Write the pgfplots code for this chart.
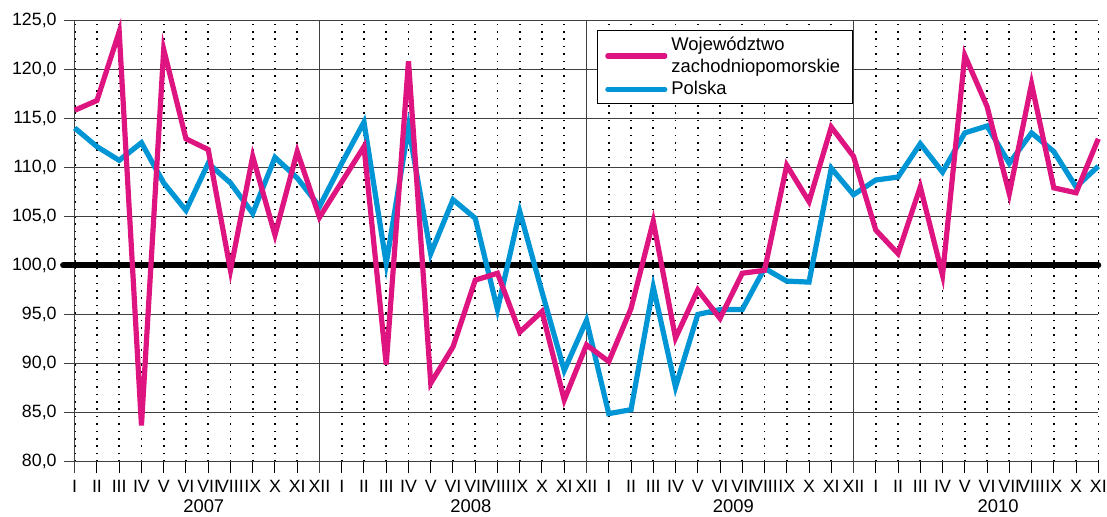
\documentclass[border=0pt]{standalone}
\usepackage{pgfplots}
\pgfplotsset{compat=1.18}
\usepackage{fontspec}
\setmainfont{Liberation Sans}
\definecolor{woj}{RGB}{222,20,128}
\definecolor{pol}{RGB}{0,150,214}

% monthly index: 0 = I 2007 ... 46 = XI 2010
\pgfplotstableread{
i val
0 115.8
1 116.8
2 123.8
3 83.7
4 122.0
5 112.9
6 111.8
7 99.5
8 111.1
9 103.1
10 111.6
11 104.9
12 108.5
13 112.1
14 89.9
15 120.8
16 88.0
17 91.7
18 98.5
19 99.2
20 93.2
21 95.3
22 86.3
23 91.9
24 90.2
25 95.6
26 104.5
27 92.6
28 97.5
29 94.6
30 99.2
31 99.5
32 110.2
33 106.5
34 114.1
35 111.1
36 103.6
37 101.2
38 108.0
39 99.0
40 121.4
41 116.2
42 107.3
43 118.5
44 107.9
45 107.4
46 112.9
}\wojtab

\pgfplotstableread{
i val
0 114.0
1 112.1
2 110.7
3 112.5
4 108.4
5 105.6
6 110.4
7 108.4
8 105.3
9 111.0
10 108.9
11 106.0
12 110.4
13 114.6
14 100.2
15 114.1
16 101.2
17 106.7
18 104.8
19 95.5
20 105.5
21 97.3
22 89.3
23 94.4
24 84.9
25 85.3
26 97.8
27 87.6
28 95.0
29 95.5
30 95.5
31 99.7
32 98.4
33 98.3
34 109.9
35 107.2
36 108.7
37 109.0
38 112.4
39 109.5
40 113.5
41 114.2
42 110.4
43 113.5
44 111.6
45 108.0
46 110.1
}\poltab

\begin{document}
\begin{tikzpicture}
\begin{axis}[
  name=ax, at={(0,0)}, anchor=south west,
  scale only axis, width=511.8pt, height=220.85pt,
  xmin=0, xmax=46, ymin=80, ymax=125,
  clip=false,
  axis line style={draw=none},
  xtick={0,...,46},
  xticklabels={I,II,III,IV,V,VI,VII,VIII,IX,X,XI,XII,
               I,II,III,IV,V,VI,VII,VIII,IX,X,XI,XII,
               I,II,III,IV,V,VI,VII,VIII,IX,X,XI,XII,
               I,II,III,IV,V,VI,VII,VIII,IX,X,XI},
  ytick={80,85,...,125},
  tick align=outside, tick pos=left,
  major tick length=5.5pt,
  xmajorgrids, ymajorgrids,
  major x grid style={black, line width=0.8pt, dash pattern=on 0.8pt off 2.9pt},
  major y grid style={black!75, line width=0.5pt},
  x tick style={black, line width=0.5pt},
  y tick style={black!75, line width=0.5pt},
  tick label style={font=\fontsize{8.9}{10}\selectfont},
  /pgf/number format/assume math mode=true,
  yticklabel style={/pgf/number format/.cd, fixed, fixed zerofill, precision=1, use comma},
  legend cell align=left,
  legend style={at={(0.510,0.977)}, anchor=north west, draw=black, line width=0.5pt,
    fill=white, font=\fontsize{9.2}{11}\selectfont, cells={align=left},
    inner xsep=4pt, inner ysep=1pt, row sep=-1pt},
  legend image code/.code={\draw[#1, line cap=round] (0pt,0pt) -- (28.5pt,0pt);},
]
\draw[black!75, line width=0.55pt] ([yshift=-5.5pt]axis cs:0,80) -- (axis cs:0,125);
\draw[black!75, line width=0.55pt] ([yshift=-5.5pt]axis cs:11,80) -- (axis cs:11,125);
\draw[black!75, line width=0.55pt] ([yshift=-5.5pt]axis cs:23,80) -- (axis cs:23,125);
\draw[black!75, line width=0.55pt] ([yshift=-5.5pt]axis cs:35,80) -- (axis cs:35,125);
\addplot[black, line width=3pt, line cap=round, forget plot] coordinates {(-0.52,100) (46,100)};
\addlegendimage{woj, line width=2.6pt}
\addlegendentry{Województwo\\zachodniopomorskie}
\addplot[pol, line width=2.6pt] table[x=i, y=val] {\poltab};
\addlegendentry{Polska}
\addplot[woj, line width=2.6pt, forget plot] table[x=i, y=val] {\wojtab};
\node[font=\fontsize{9.2}{11}\selectfont] at (axis cs:5.8,80) [yshift=-22.4pt] {2007};
\node[font=\fontsize{9.2}{11}\selectfont] at (axis cs:17.8,80) [yshift=-22.4pt] {2008};
\node[font=\fontsize{9.2}{11}\selectfont] at (axis cs:29.6,80) [yshift=-22.4pt] {2009};
\node[font=\fontsize{9.2}{11}\selectfont] at (axis cs:41.5,80) [yshift=-22.4pt] {2010};
\end{axis}
\pgfresetboundingbox
\path (ax.south west) ++(-37.35pt,-27.15pt) rectangle ++(553.5pt,258pt);
\end{tikzpicture}
\end{document}
